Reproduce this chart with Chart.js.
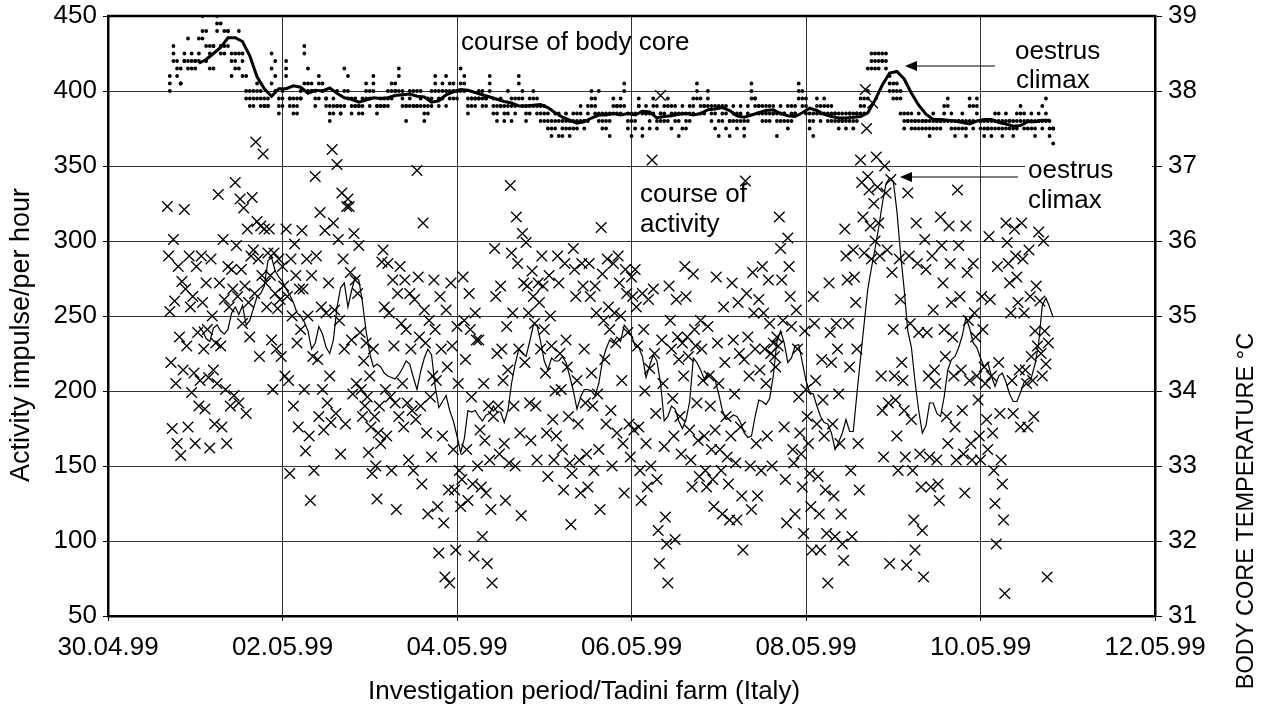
<!DOCTYPE html>
<html>
<head>
<meta charset="utf-8">
<title>Activity and body core temperature</title>
<script src="https://cdn.jsdelivr.net/npm/chart.js@4/dist/chart.umd.min.js"></script>
<style>
  html, body { margin: 0; padding: 0; background: #fff; }
  #wrap { width: 1272px; height: 708px; }
</style>
</head>
<body>
<div id="wrap"><canvas id="chart" width="1272" height="708"></canvas></div>
<script>
// x axis runs in days from 30.04.99 00:00, ticks every 2 days
const dateLabels = ['30.04.99', '02.05.99', '04.05.99', '06.05.99', '08.05.99', '10.05.99', '12.05.99'];

// activity impulses, one reading every 20 minutes (hours since 30.04.99 00:00)
const activityStart = 16.33;
const activityStep = 1 / 3;
const activity = [
    323, 290, 253, 219, 175, 301, 260, 205, 165, 283, 236, 157, 273, 214,
    321, 268, 230, 176, 290, 256, 199, 263, 212, 165, 283, 239, 190, 207,
    290, 259, 228, 188, 272, 241, 209, 162, 288, 250, 214, 178, 232, 205,
    331, 272, 230, 176, 301, 261, 201, 165, 283, 256, 190, 281, 268, 197,
    339, 297, 263, 192, 328, 281, 245, 322, 270, 185, 308, 259, 236, 290,
    329, 294, 265, 366, 313, 288, 223, 310, 277, 358, 308, 272, 256, 292,
    308, 277, 234, 201, 292, 265, 228, 255, 288, 261, 223, 283, 270, 210,
    308, 263, 207, 145, 288, 250, 190, 298, 277, 232, 176, 268, 241,
    307, 268, 201, 160, 288, 250, 170, 127, 277, 223, 147,
    343, 290, 221, 183, 319, 256, 201, 174, 307, 252, 192, 272, 210, 179,
    361, 312, 254, 185, 351, 301, 247, 158, 332, 288, 228, 178, 323, 328,
    323, 279, 234, 198, 305, 274, 205, 265, 297, 239, 201, 183, 220, 190,
    232, 196, 159, 210, 176, 145, 228, 183, 150, 128, 172, 190, 165, 286,
    294, 256, 201, 170, 285, 252, 196, 147, 274, 230, 192, 121, 265, 183,
    283, 245, 205, 176, 274, 241, 192, 154, 265, 228, 187, 147, 261, 181,
    347, 276, 236, 190, 138, 312, 254, 232, 172, 118, 247, 196, 156, 210,
    274, 241, 207, 123, 92, 263, 228, 170, 112, 76, 254, 216, 134, 72,
    272, 230, 161, 134, 94, 243, 205, 147, 123, 141,
    276, 247, 221, 161, 127, 265, 241, 196, 138, 90, 252, 234, 150,
    234, 174, 136, 103, 205, 167, 132, 85, 190, 154, 121, 72, 183,
    295, 263, 225, 190, 158, 270, 228, 207, 165, 127, 243, 214, 152,
    337, 292, 252, 190, 150, 316, 285, 228, 172, 117, 305, 272, 219,
    299, 270, 252, 192, 167, 280, 263, 245, 190, 154, 272, 259, 228,
    290, 270, 241, 212, 172, 143, 277, 250, 230, 181, 154, 200, 170,
    290, 272, 225, 201, 161, 134, 285, 234, 216, 183, 152, 111, 145,
    295, 281, 263, 207, 178, 154, 132, 285, 270, 228, 192, 158, 136,
    285, 263, 212, 190, 147, 270, 252, 198, 161, 121,
    309, 278, 247, 221, 178, 288, 256, 241, 187, 150, 285, 252, 232, 172,
    290, 272, 250, 207, 165, 132, 281, 265, 239, 178, 156, 276, 263, 174,
    281, 256, 230, 176, 147, 127, 265, 241, 200, 165, 136, 261, 215, 150,
    354, 268, 225, 185, 141, 107, 85, 397, 234, 205, 163, 116, 98, 72,
    270, 247, 228, 195, 170, 101, 261, 236, 221, 183, 158, 232, 210,
    283, 263, 236, 223, 174, 154, 136, 278, 241, 230, 192, 167, 143,
    247, 228, 207, 170, 147, 136, 243, 210, 190, 161, 141, 123, 174,
    276, 232, 205, 161, 147, 118, 256, 219, 183, 156, 138, 114, 170,
    272, 234, 198, 152, 114, 259, 225, 176, 130, 94, 221,
    340, 265, 236, 210, 150, 121, 279, 252, 228, 165, 130, 261, 214, 147,
    283, 252, 228, 205, 170, 274, 245, 225, 150, 232, 223, 216, 236, 230,
    316, 295, 274, 247, 176, 141, 112, 302, 283, 263, 243, 161, 152, 118,
    254, 228, 196, 172, 158, 136, 105, 240, 201, 183, 165, 145, 123, 94,
    263, 245, 207, 178, 143, 118, 94, 221, 194, 170, 134, 105, 72,
    272, 239, 219, 178, 130, 103, 245, 228, 198, 165, 118, 98, 87,
    308, 290, 274, 245, 216, 147, 103, 294, 276, 259, 228, 165, 134,
    354, 339, 316, 292, 401, 375, 343, 334, 310, 288, 392, 325, 300,
    356, 336, 312, 290, 210, 187, 156, 350, 332, 294, 192, 85,
    341, 279, 241, 210, 194, 170, 147, 288, 261, 219, 207, 187, 156, 84,
    332, 290, 245, 181, 147, 114, 94, 312, 285, 239, 158, 136, 107, 76,
    301, 281, 239, 210, 156, 136, 290, 254, 214, 205, 154, 138, 127,
    316, 297, 272, 241, 223, 183, 165, 310, 285, 259, 236, 210, 176, 154,
    334, 297, 263, 214, 187, 158, 132, 310, 279, 247, 207, 165, 154,
    285, 252, 236, 210, 194, 170, 154, 263, 241, 216, 205, 181, 161,
    303, 261, 210, 172, 147, 125, 98, 283, 219, 185, 154, 138, 114, 65,
    312, 299, 285, 272, 252, 207, 185, 308, 290, 276, 259, 214, 176,
    312, 288, 252, 214, 205, 176, 294, 263, 223, 207, 183, 240, 270, 230,
    306, 260, 225, 210, 300, 240, 218, 76, 232
];

// course of activity (moving average), hourly from hour 25
const activityAvgStart = 25;
const activityAvg = [
    243, 240, 235, 233, 242, 244, 240, 238, 241, 252,
    256, 251, 257, 244, 247, 255, 263, 265, 270, 287,
    289, 280, 276, 273, 268, 264, 259, 252, 250, 246,
    240, 228, 232, 243, 238, 229, 225, 234, 256, 269,
    272, 256, 267, 276, 274, 259, 240, 225, 216, 218,
    216, 212, 210, 209, 208, 211, 215, 220, 218, 209,
    201, 213, 222, 228, 224, 203, 189, 193, 197, 187,
    180, 170, 159, 168, 187, 186, 187, 183, 180, 184,
    185, 190, 186, 186, 179, 187, 205, 218, 228, 225,
    223, 233, 244, 244, 233, 220, 214, 222, 220, 220,
    223, 219, 210, 200, 188, 196, 201, 201, 200, 197,
    205, 220, 228, 234, 232, 236, 233, 244, 241, 237,
    230, 229, 223, 209, 217, 224, 220, 205, 180, 183,
    190, 188, 180, 175, 181, 193, 222, 219, 214, 208,
    212, 210, 207, 198, 187, 181, 182, 184, 183, 179,
    172, 169, 170, 183, 194, 193, 191, 195, 210, 233,
    240, 232, 219, 222, 230, 231, 219, 207, 199, 198,
    190, 183, 179, 178, 172, 161, 166, 172, 181, 173,
    173, 198, 222, 245, 268, 282, 295, 309, 325, 338,
    342, 340, 320, 292, 268, 240, 229, 206, 187, 172,
    177, 192, 192, 185, 183, 196, 214, 221, 223, 229,
    237, 249, 242, 232, 229, 222, 216, 219, 210, 203,
    210, 212, 206, 198, 193, 193, 199, 206, 208, 209,
    218, 232, 257, 262, 256, 249
];

// body core temperature (°C), three readings per hour from hour 17
const tempStart = 17;
const readingsPerHour = 3;
const temperature = [
    38.0, 38.1, 38.2, 38.5, 38.6, 38.4, 38.3, 38.4, 38.2, 38.1, 38.3, 38.1,
    38.4, 38.5, 38.4, 38.3, 38.4, 38.7, 38.5, 38.4, 38.3, 38.4, 38.3, 38.4,
    38.4, 38.5, 38.7, 39.0, 38.8, 38.7, 38.4, 38.6, 38.8, 38.3, 38.6, 38.5,
    38.6, 38.3, 38.6, 39.0, 38.9, 38.8, 38.6, 38.5, 38.9, 38.8, 38.6, 38.5,
    38.8, 38.6, 38.8, 38.2, 38.5, 38.4, 38.5, 38.3, 38.4, 38.5, 38.3, 38.8,
    38.2, 38.5, 38.4, 38.2, 38.0, 37.9, 38.0, 37.8, 37.9, 38.0, 37.9, 37.8,
    38.1, 38.0, 37.9, 37.8, 37.9, 38.0, 37.8, 37.9, 37.8, 37.9, 37.8, 37.8,
    38.1, 38.3, 38.5, 38.4, 38.2, 38.0, 37.9, 37.8, 37.7, 38.0, 37.9, 37.8,
    38.2, 38.4, 38.3, 37.9, 37.8, 37.9, 37.7, 37.8, 37.9, 37.8, 37.7, 37.9,
    37.9, 38.0, 37.9, 38.1, 38.5, 38.6, 38.3, 38.1, 38.0, 38.1, 38.0, 38.0,
    38.0, 37.9, 37.8, 37.9, 38.2, 38.1, 38.0, 38.1, 38.0, 37.9, 37.8, 37.9,
    37.8, 37.7, 37.6, 37.8, 37.9, 37.7, 37.8, 38.0, 37.8, 37.7, 37.8, 37.7,
    37.8, 38.0, 38.3, 38.2, 38.0, 37.9, 37.8, 37.9, 37.7, 37.8, 37.9, 37.8,
    37.8, 37.7, 37.8, 37.9, 37.7, 37.8, 38.1, 38.0, 37.9, 37.8, 38.0, 37.9,
    38.0, 38.2, 38.1, 37.8, 37.7, 37.8, 37.8, 37.8, 37.9, 37.8, 37.8, 37.9,
    37.8, 37.9, 38.0, 38.1, 38.0, 37.9, 38.0, 38.1, 38.0, 38.3, 38.2, 38.0,
    38.0, 37.9, 37.8, 37.8, 37.6, 37.8, 38.0, 37.9, 37.8, 37.8, 38.0, 37.8,
    37.8, 38.0, 37.8, 37.9, 37.8, 38.0, 37.7, 37.8, 37.6, 37.7, 37.8, 37.9,
    37.8, 37.9, 38.0, 38.2, 38.1, 38.0, 37.9, 37.8, 38.0, 38.1, 37.9, 38.0,
    38.2, 38.0, 37.8, 38.1, 37.9, 38.0, 37.9, 38.0, 38.1, 38.0, 37.9, 38.0,
    38.0, 38.1, 38.3, 38.2, 38.1, 38.0, 37.9, 37.8, 37.7, 37.9, 37.8, 37.9,
    37.9, 37.8, 37.9, 37.9, 38.0, 37.9, 37.8, 37.9, 38.0, 37.9, 37.8, 37.9,
    38.0, 38.2, 38.1, 37.9, 37.8, 37.7, 37.8, 37.6, 37.7, 37.8, 37.9, 37.8,
    37.7, 37.6, 37.8, 38.0, 37.8, 37.7, 37.9, 37.8, 37.6, 37.7, 37.8, 37.9,
    37.9, 38.1, 38.2, 37.9, 38.0, 37.8, 37.7, 37.6, 37.8, 37.7, 37.9, 37.8,
    37.8, 37.9, 38.0, 37.9, 37.8, 37.7, 37.8, 37.7, 37.6, 37.8, 37.7, 37.6,
    37.7, 37.6, 37.5, 37.6, 37.4, 37.5, 37.7, 37.6, 37.5, 37.4, 37.6, 37.7,
    37.6, 37.5, 37.4, 37.5, 37.6, 37.7, 37.6, 37.5, 37.4, 37.6, 37.7, 37.5,
    37.6, 37.7, 37.5, 37.6, 37.8, 37.7, 37.6, 37.5, 37.6, 37.7, 37.8, 37.6,
    37.8, 37.9, 38.0, 37.7, 37.8, 37.9, 38.0, 37.7, 37.6, 37.5, 37.7, 37.6,
    37.7, 37.6, 37.5, 37.4, 37.6, 37.7, 37.8, 37.7, 37.9, 37.8, 37.7, 37.8,
    37.9, 37.8, 37.7, 38.0, 38.1, 37.8, 37.6, 37.5, 37.7, 37.4, 37.6, 37.7,
    37.5, 37.6, 37.7, 37.8, 37.9, 37.8, 37.7, 37.5, 37.4, 37.7, 37.8, 37.7,
    37.7, 37.5, 37.6, 37.8, 37.9, 37.7, 37.6, 37.5, 37.8, 37.7, 37.6, 37.7,
    37.8, 37.7, 37.6, 37.9, 37.8, 37.6, 37.5, 37.7, 37.8, 37.7, 37.6, 37.8,
    37.7, 37.6, 37.4, 37.5, 37.7, 37.8, 37.7, 37.6, 37.5, 37.7, 37.6, 37.8,
    37.7, 37.8, 37.9, 38.1, 38.0, 37.9, 37.8, 37.7, 37.9, 37.8, 37.7, 37.8,
    37.8, 38.0, 37.9, 37.8, 37.7, 37.6, 37.5, 37.8, 37.7, 37.4, 37.6, 37.8,
    37.8, 37.7, 37.6, 37.8, 37.7, 37.5, 37.6, 37.4, 37.6, 37.7, 37.8, 37.6,
    37.7, 37.6, 37.5, 37.6, 37.8, 37.7, 37.5, 37.6, 37.4, 37.7, 37.6, 37.8,
    37.9, 38.0, 38.1, 37.9, 37.8, 37.9, 37.8, 37.7, 37.8, 37.6, 37.7, 37.8,
    37.8, 37.7, 37.6, 37.7, 37.8, 37.6, 37.7, 37.8, 37.7, 37.6, 37.7, 37.4,
    37.6, 37.7, 37.8, 37.7, 37.6, 37.7, 37.8, 37.6, 37.5, 37.7, 37.8, 37.6,
    37.7, 37.8, 37.7, 37.9, 38.0, 38.1, 37.9, 37.8, 38.0, 37.9, 37.8, 37.7,
    37.7, 37.6, 37.5, 37.7, 37.4, 37.6, 37.7, 37.8, 37.9, 37.7, 37.6, 37.8,
    37.9, 37.8, 37.7, 37.6, 37.7, 37.8, 37.6, 37.7, 37.8, 37.7, 37.6, 37.7,
    37.6, 37.7, 37.5, 37.6, 37.7, 37.6, 37.5, 37.7, 37.6, 37.7, 37.6, 37.7,
    37.7, 37.6, 37.5, 37.7, 37.6, 37.7, 37.8, 37.7, 37.9, 37.8, 37.7, 37.9,
    37.9, 38.0, 38.3, 38.4, 38.3, 38.5, 38.4, 38.3, 38.5, 38.4, 38.5, 38.3,
    38.4, 38.5, 38.4, 38.3, 38.5, 38.4, 38.1, 38.0, 38.2, 38.1, 37.9, 38.0,
    38.1, 38.0, 37.9, 38.0, 37.9, 37.7, 37.6, 37.7, 37.5, 37.6, 37.7, 37.6,
    37.6, 37.5, 37.7, 37.6, 37.5, 37.6, 37.7, 37.6, 37.5, 37.6, 37.5, 37.6,
    37.6, 37.5, 37.6, 37.4, 37.5, 37.6, 37.7, 37.6, 37.5, 37.6, 37.5, 37.6,
    37.6, 37.5, 37.6, 37.7, 37.6, 37.8, 37.9, 37.8, 37.6, 37.5, 37.6, 37.7,
    37.6, 37.5, 37.4, 37.6, 37.5, 37.6, 37.5, 37.7, 37.6, 37.5, 37.6, 37.4,
    37.6, 37.8, 37.9, 37.8, 37.6, 37.5, 37.7, 37.9, 37.8, 37.6, 37.5, 37.6,
    37.6, 37.5, 37.4, 37.5, 37.6, 37.5, 37.6, 37.4, 37.5, 37.6, 37.5, 37.7,
    37.6, 37.7, 37.5, 37.6, 37.5, 37.4, 37.6, 37.7, 37.5, 37.6, 37.5, 37.6,
    37.5, 37.6, 37.4, 37.5, 37.6, 37.7, 37.8, 37.7, 37.6, 37.5, 37.6, 37.7,
    37.6, 37.5, 37.6, 37.7, 37.6, 37.5, 37.4, 37.6, 37.5, 37.6, 37.7, 37.6,
    37.5, 37.6, 37.8, 37.9, 37.7, 37.6, 37.5, 37.6, 37.4, 37.5, 37.3, 37.5
];

// course of body core temperature (moving average), every 2 hours from hour 25
const tempAvgStart = 25;
const tempAvgStep = 2;
const tempAvg = [
    38.37, 38.42, 38.5, 38.58, 38.71, 38.71, 38.66, 38.47, 38.19, 38.03,
    37.93, 38.03, 38.03, 38.07, 38.05, 37.97, 38.01, 38.0, 38.04, 37.97,
    37.91, 37.89, 37.85, 37.88, 37.91, 37.9, 37.91, 37.94, 37.95, 37.96,
    37.93, 37.92, 37.85, 37.87, 37.95, 37.99, 38.02, 38.01, 37.98, 37.95,
    37.92, 37.89, 37.86, 37.84, 37.8, 37.8, 37.81, 37.82, 37.78, 37.71,
    37.65, 37.61, 37.57, 37.59, 37.64, 37.68, 37.68, 37.7, 37.68, 37.7,
    37.68, 37.73, 37.72, 37.64, 37.66, 37.67, 37.69, 37.7, 37.68, 37.7,
    37.75, 37.76, 37.78, 37.74, 37.67, 37.65, 37.68, 37.71, 37.74, 37.75,
    37.7, 37.67, 37.66, 37.71, 37.77, 37.74, 37.69, 37.66, 37.64, 37.64,
    37.65, 37.66, 37.71, 37.88, 38.08, 38.24, 38.26, 38.16, 37.97, 37.81,
    37.69, 37.62, 37.62, 37.61, 37.6, 37.58, 37.56, 37.6, 37.62, 37.62,
    37.58, 37.56, 37.53, 37.54, 37.59, 37.59, 37.61, 37.61
];

const FONT = '"Liberation Sans", Arial, sans-serif';
Chart.defaults.font.family = FONT;
Chart.defaults.color = '#000';

const toDay = (hour) => hour / 24;

const activityPoints = activity.map((v, i) => ({x: toDay(activityStart + i * activityStep), y: v}));
const activityAvgPoints = activityAvg.map((v, i) => ({x: toDay(activityAvgStart + i), y: v}));
const tempPoints = temperature.map((v, i) => ({x: toDay(tempStart + Math.floor(i / readingsPerHour)), y: v}));
const tempAvgPoints = tempAvg.map((v, i) => ({x: toDay(tempAvgStart + i * tempAvgStep), y: v}));

// white box behind the lower label, drawn under the data
const labelBox = {
    id: 'labelBox',
    beforeDatasetsDraw(chart) {
        const {ctx} = chart;
        ctx.save();
        ctx.fillStyle = '#fff';
        ctx.fillRect(1025, 150, 127, 64);
        ctx.restore();
    }
};

const arrow = (ctx, x1, x2, y) => {
    ctx.beginPath();
    ctx.moveTo(x1, y);
    ctx.lineTo(x2 + 11, y);
    ctx.stroke();
    ctx.beginPath();
    ctx.moveTo(x2, y);
    ctx.lineTo(x2 + 12, y - 5);
    ctx.lineTo(x2 + 12, y + 5);
    ctx.closePath();
    ctx.fill();
};

// frame top, annotations and axis titles
const annotations = {
    id: 'annotations',
    afterDraw(chart) {
        const {ctx, chartArea: a} = chart;
        ctx.save();
        ctx.strokeStyle = '#000';
        ctx.lineWidth = 2.5;
        ctx.beginPath();
        ctx.moveTo(a.left - 1, a.top);
        ctx.lineTo(a.right + 1, a.top);
        ctx.stroke();

        ctx.fillStyle = '#000';
        ctx.font = '26px ' + FONT;
        ctx.textAlign = 'left';
        ctx.textBaseline = 'alphabetic';
        ctx.fillText('course of body core', 461, 50);
        ctx.fillText('oestrus', 1015, 59);
        ctx.fillText('climax', 1016, 88);
        ctx.fillText('course of', 640, 202);
        ctx.fillText('activity', 640, 232);
        ctx.fillText('oestrus', 1028, 178);
        ctx.fillText('climax', 1028, 208);

        ctx.lineWidth = 1;
        arrow(ctx, 995, 905, 66);
        arrow(ctx, 1018, 900, 177);

        ctx.textAlign = 'center';
        ctx.textBaseline = 'middle';
        ctx.font = '26px ' + FONT;
        ctx.fillText('Investigation period/Tadini farm (Italy)', 584, 692);

        ctx.save();
        ctx.translate(22, 335);
        ctx.rotate(-Math.PI / 2);
        ctx.font = '27px ' + FONT;
        ctx.fillText('Activity impulse/per hour', 0, 0);
        ctx.restore();

        ctx.save();
        ctx.translate(1247, 511);
        ctx.rotate(-Math.PI / 2);
        ctx.font = '23.5px ' + FONT;
        ctx.fillText('BODY CORE TEMPERATURE °C', 0, 0);
        ctx.restore();
        ctx.restore();
    }
};

const gridColor = '#333';

// keep the plot frame at fixed place: no extra room for half labels
const fitY = (width) => (s) => {
    s.width = width;
    s.paddingTop = 0;
    s.paddingBottom = 0;
};

new Chart(document.getElementById('chart'), {
    type: 'scatter',
    data: {
        datasets: [{
            label: 'Activity',
            data: activityPoints,
            yAxisID: 'y',
            pointStyle: 'crossRot',
            pointRadius: 7.5,
            borderColor: '#000',
            backgroundColor: '#000',
            borderWidth: 1.3,
            order: 4
        }, {
            label: 'Course of activity',
            data: activityAvgPoints,
            yAxisID: 'y',
            showLine: true,
            pointRadius: 0,
            borderColor: '#000',
            borderWidth: 1.2,
            order: 3
        }, {
            label: 'Body core temperature',
            data: tempPoints,
            yAxisID: 'y2',
            pointStyle: 'circle',
            pointRadius: 1.9,
            borderWidth: 0,
            backgroundColor: '#000',
            order: 2
        }, {
            label: 'Course of body core',
            data: tempAvgPoints,
            yAxisID: 'y2',
            showLine: true,
            pointRadius: 0,
            borderColor: '#000',
            borderWidth: 3,
            order: 1
        }]
    },
    options: {
        responsive: false,
        animation: false,
        events: [],
        layout: {padding: {top: 16, left: 0, right: 0, bottom: 0}},
        plugins: {
            legend: {display: false},
            tooltip: {enabled: false}
        },
        scales: {
            x: {
                type: 'linear',
                min: 0,
                max: 12,
                afterFit: (s) => { s.height = 92; },
                ticks: {
                    stepSize: 2,
                    autoSkip: false,
                    maxRotation: 0,
                    padding: 11,
                    font: {size: 26},
                    callback: (v) => dateLabels[v / 2]
                },
                grid: {color: gridColor, lineWidth: 1, tickLength: 5, tickColor: '#000'},
                border: {display: true, color: '#000', width: 2.5}
            },
            y: {
                position: 'left',
                min: 50,
                max: 450,
                afterFit: fitY(108),
                ticks: {stepSize: 50, padding: 6, font: {size: 26}},
                grid: {color: gridColor, lineWidth: 1, tickLength: 5, tickColor: '#000'},
                border: {display: true, color: '#000', width: 2.5}
            },
            y2: {
                position: 'right',
                min: 31,
                max: 39,
                afterFit: fitY(117),
                ticks: {stepSize: 1, padding: 6, font: {size: 26}},
                grid: {drawOnChartArea: false, tickLength: 7, tickColor: '#000'},
                border: {display: true, color: '#000', width: 2.5}
            }
        }
    },
    plugins: [labelBox, annotations]
});
</script>
</body>
</html>
